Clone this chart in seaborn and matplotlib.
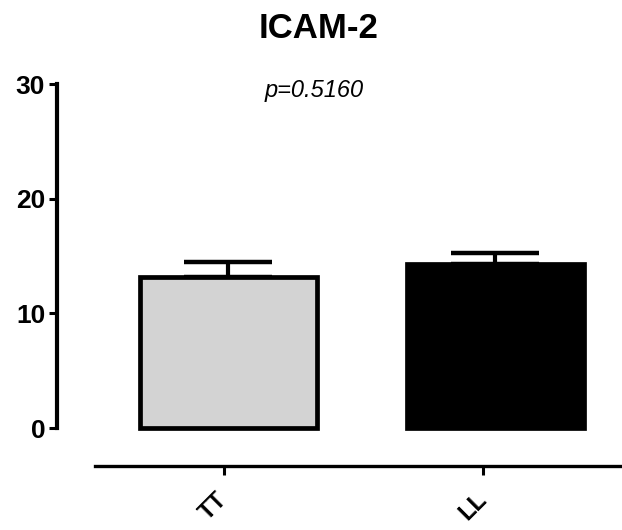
import matplotlib
matplotlib.use("Agg")
import matplotlib.pyplot as plt
import seaborn as sns
import pandas as pd

groups = ["TT", "LL"]
means = [13.2, 14.3]
sems = [1.25, 1.0]
bar_colors = ["#d3d3d3", "#000000"]
yticks = [0, 10, 20, 30]
title = "ICAM-2"
p_text = "p=0.5160"

sns.set_style("ticks")
plt.rcParams["font.family"] = ["Liberation Sans", "DejaVu Sans"]
for k in ["text.color", "axes.labelcolor", "xtick.color", "ytick.color", "axes.edgecolor"]:
    plt.rcParams[k] = "black"

fig = plt.figure(figsize=(6.22, 5.30), dpi=100)
ax = fig.add_axes([95 / 622, 1 - 428 / 530, 527 / 622, 344 / 530])

df = pd.DataFrame({"group": groups, "mean": means})
sns.barplot(data=df, x="group", y="mean", hue="group", palette=bar_colors,
            edgecolor="black", linewidth=3.4, width=0.66, errorbar=None,
            legend=False, ax=ax, zorder=2)
for p in ax.patches:
    p.set_clip_on(False)

ax.errorbar(x=list(range(len(groups))), y=means, yerr=[[0] * len(sems), sems],
            fmt="none", ecolor="black", elinewidth=3, capsize=32, capthick=3.2,
            zorder=1, clip_on=False)

ax.set_xlim(-0.5, 1.474)
ax.set_ylim(0, 30)
ax.set_xlabel("")
ax.set_ylabel("")

sns.despine(ax=ax)
off = 38 * 0.72  # 38 px in points
ax.spines["left"].set_position(("outward", off))
ax.spines["bottom"].set_position(("outward", off))
ax.spines["left"].set_bounds(0, 30)
ax.spines["left"].set_linewidth(3)
ax.spines["bottom"].set_linewidth(2.4)
ax.tick_params(axis="y", direction="out", length=5.5, width=2.2, pad=3, color="black")
ax.tick_params(axis="x", direction="out", length=6.5, width=2.2, pad=15, color="black")

ax.set_yticks(yticks)
ax.set_yticklabels([str(t) for t in yticks], fontsize=19, fontweight="bold", color="black")
# Prism-style tick placement: ticks sit slightly left of the bar centres
ax.set_xticks([-0.017, 0.953])
ax.set_xticklabels(groups, fontsize=17, fontweight="bold", rotation=45,
                   ha="right", va="center", rotation_mode="anchor", color="black")

fig.text(319 / 622, 1 - 28 / 530, title, ha="center", va="center",
         fontsize=25, fontweight="bold")
fig.text(314 / 622, 1 - 91 / 530, p_text, ha="center", va="center",
         fontsize=17, style="italic")

fig.savefig("out.png", dpi=100)
